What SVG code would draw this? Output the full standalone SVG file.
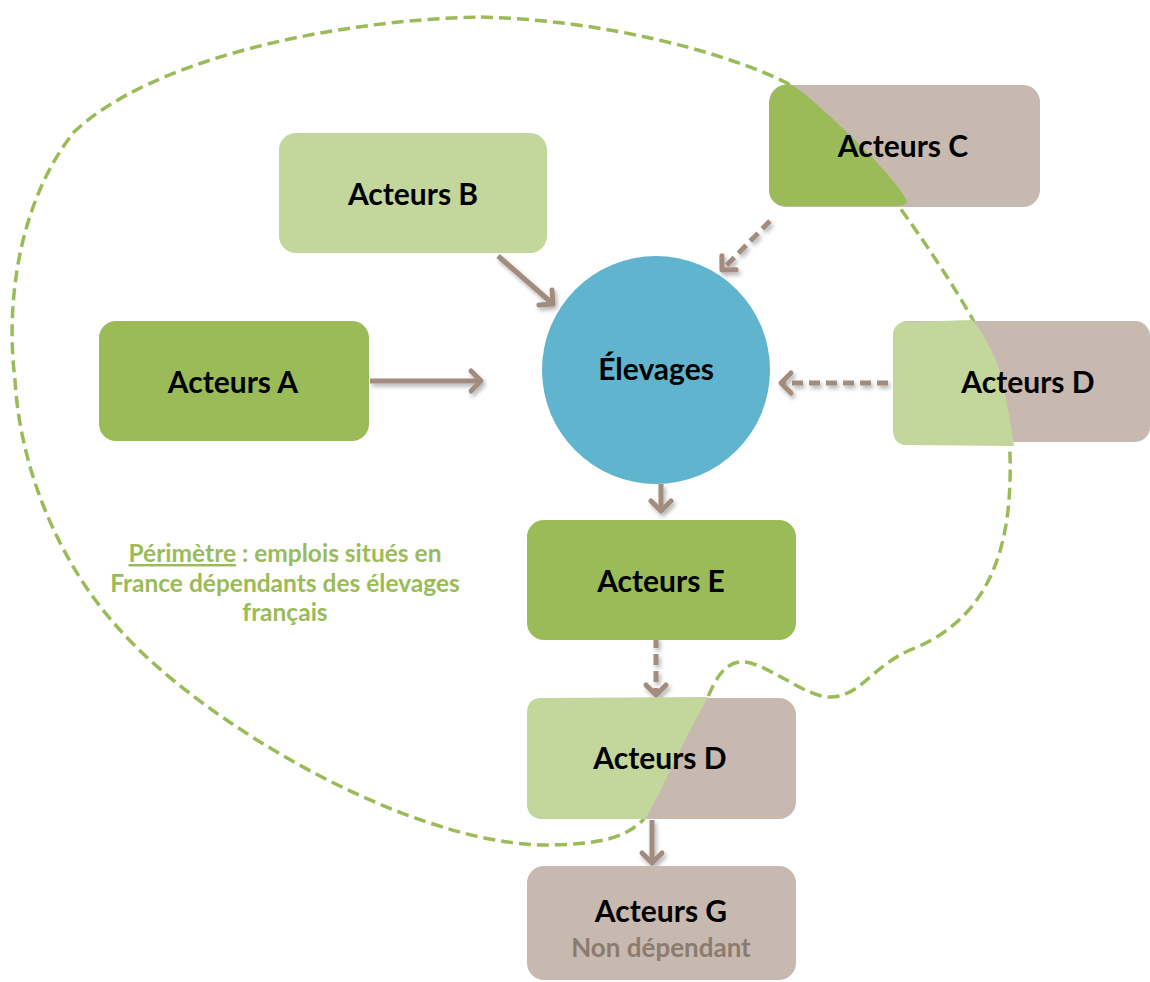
<svg xmlns="http://www.w3.org/2000/svg" width="1150" height="982" viewBox="0 0 1150 982">
<style>
.lbl{font-family:Lato,"Liberation Sans",sans-serif;font-weight:bold;font-size:30px;fill:#000;text-anchor:middle}
.per{font-family:Lato,"Liberation Sans",sans-serif;font-weight:bold;font-size:24.5px;fill:#9bbb59;text-anchor:middle}
.dg{fill:#9bbb59}.lg{fill:#c3d69b}.br{fill:#c7b9b0}
.arr{stroke:#a28c7e;stroke-width:5;fill:none;marker-end:url(#head);filter:url(#sh)}
.dash{stroke-dasharray:11 6}
</style>
<defs>
<marker id="head" markerUnits="userSpaceOnUse" markerWidth="30" markerHeight="30" viewBox="-15 -15 30 30" refX="0" refY="0" orient="auto">
<path d="M-10,-10 L0,0 L-10,10" fill="none" stroke="#a28c7e" stroke-width="5" stroke-linecap="round" stroke-linejoin="round"/>
</marker>
<filter id="sh" filterUnits="userSpaceOnUse" x="0" y="0" width="1150" height="982">
<feDropShadow dx="2" dy="3" stdDeviation="2" flood-color="#000" flood-opacity="0.3"/>
</filter>
</defs>
<g id="perimetre">
<path d="M481,17 C600,20 720,50 787,83 C840,115 940,260 973,320 C1000,370 1012,420 1010,480 C1008,570 975,625 910,650 C870,668 860,697 830,697 C805,697 770,665 745,662 C725,660 715,680 708,697 L643,820 C625,838 600,845 540,845 C400,840 200,720 120,630 C60,565 20,470 15,380 C5,300 20,200 74,132 C150,60 330,20 481,17 Z" fill="none" stroke="#9bbb59" stroke-width="3.5" stroke-dasharray="12 6"/>
<text class="per" x="285" y="562"><tspan text-decoration="underline">Périmètre</tspan> : emplois situés en</text>
<text class="per" x="285" y="592">France dépendants des élevages</text>
<text class="per" x="285" y="621">français</text>
</g>
<g id="connectors">
<path class="arr" d="M370,381 L481,381"/>
<path class="arr" d="M498,256 L553,304"/>
<path class="arr dash" d="M770,221 L722,270"/>
<path class="arr dash" d="M888,383 L781,383"/>
<path class="arr" d="M661,484 L661,511"/>
<path class="arr dash" d="M656,637 L656,695"/>
<path class="arr" d="M652,820 L652,863"/>
</g>
<g id="acteursB"><rect class="lg" x="279" y="133" width="268" height="120" rx="17"/><text class="lbl" x="413" y="205">Acteurs B</text></g>
<g id="acteursA"><rect class="dg" x="99" y="321" width="270" height="120" rx="17"/><text class="lbl" x="233" y="393">Acteurs A</text></g>
<g id="acteursC"><rect class="br" x="769" y="85" width="271" height="122" rx="17"/>
<path class="dg" d="M790,84 C776,84 769,93 769,110 L769,190 C770,203 778,207 795,206 L895,206 C905,206 909,203 906,199 C895,180 870,155 848,133 C825,112 805,92 790,84 Z"/>
<text class="lbl" x="903" y="157">Acteurs C</text></g>
<g id="elevages"><circle cx="656" cy="370" r="114" fill="#61b4cd"/><text class="lbl" x="656" y="380">Élevages</text></g>
<g id="acteursD1"><rect class="br" x="893" y="321" width="257" height="121" rx="15"/>
<path class="lg" d="M906,322 L972,320 C985,335 998,360 1003,383 C1008,410 1012,430 1014,446 L906,445 C897,445 893,438 893,430 L893,336 C893,327 898,322 906,322 Z"/>
<text class="lbl" x="1028" y="393">Acteurs D</text></g>
<g id="acteursE"><rect class="dg" x="527" y="520" width="269" height="120" rx="17"/><text class="lbl" x="661" y="592">Acteurs E</text></g>
<g id="acteursD2"><rect class="br" x="527" y="698" width="269" height="121" rx="17"/>
<path class="lg" d="M542,698 L708,697 C695,720 680,750 667,777 C660,792 652,808 645,819 L542,819 C532,819 527,812 527,804 L527,713 C527,703 532,698 542,698 Z"/>
<text class="lbl" x="660" y="769">Acteurs D</text></g>
<g id="acteursG"><rect class="br" x="527" y="866" width="269" height="114" rx="17"/><text class="lbl" x="661" y="922">Acteurs G</text><text class="lbl" x="661" y="957" style="font-size:26px;fill:#8c7b6f">Non dépendant</text></g>
</svg>
